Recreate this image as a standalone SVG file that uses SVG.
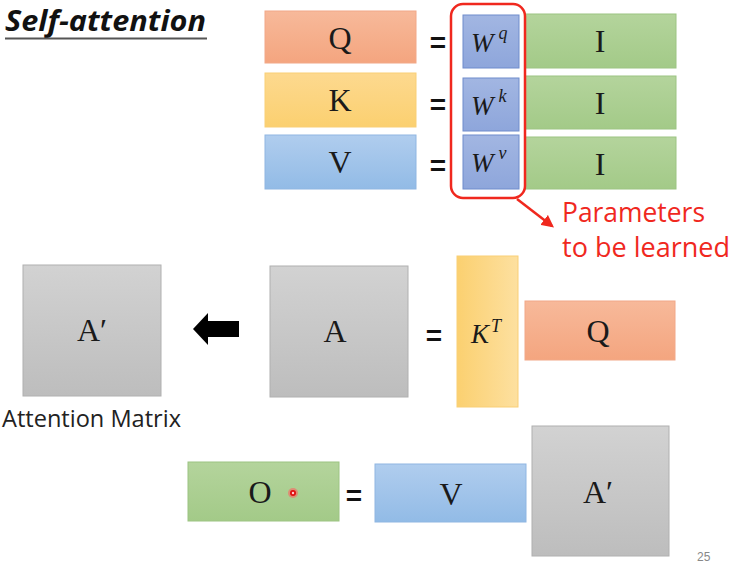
<svg xmlns="http://www.w3.org/2000/svg" width="732" height="563" viewBox="0 0 732 563">
<defs>
<linearGradient id="gOr" x1="0" y1="0" x2="0" y2="1"><stop offset="0" stop-color="#f7b99a"/><stop offset="1" stop-color="#f4a57f"/></linearGradient>
<linearGradient id="gYe" x1="0" y1="0" x2="0" y2="1"><stop offset="0" stop-color="#fdd98f"/><stop offset="1" stop-color="#fbd070"/></linearGradient>
<linearGradient id="gYeH" x1="0" y1="0" x2="1" y2="0"><stop offset="0" stop-color="#fbd070"/><stop offset="1" stop-color="#fde0a0"/></linearGradient>
<linearGradient id="gBl" x1="0" y1="0" x2="0" y2="1"><stop offset="0" stop-color="#b0cdee"/><stop offset="1" stop-color="#92bbe6"/></linearGradient>
<linearGradient id="gGr" x1="0" y1="0" x2="0" y2="1"><stop offset="0" stop-color="#b4d49c"/><stop offset="1" stop-color="#a3ca88"/></linearGradient>
<linearGradient id="gW" x1="0" y1="0" x2="0" y2="1"><stop offset="0" stop-color="#a2b6e2"/><stop offset="1" stop-color="#8ea6db"/></linearGradient>
<linearGradient id="gGy" x1="0" y1="0" x2="0" y2="1"><stop offset="0" stop-color="#d2d2d2"/><stop offset="1" stop-color="#bdbdbd"/></linearGradient>
<marker id="redHead" viewBox="0 0 10 10" refX="8" refY="5" markerWidth="5" markerHeight="5" orient="auto"><path d="M0,0 L10,5 L0,10 z" fill="#f0281e"/></marker>
</defs>
<style>
.or{fill:url(#gOr);stroke:#f2a888;stroke-width:1}
.ye{fill:url(#gYe);stroke:#f9cf77;stroke-width:1}
.bl{fill:url(#gBl);stroke:#8fb6e2;stroke-width:1}
.gr{fill:url(#gGr);stroke:#9cc482;stroke-width:1}
.w{fill:url(#gW);stroke:#6f8ccc;stroke-width:1}
.gy{fill:url(#gGy);stroke:#b0b0b0;stroke-width:1}
.lab{font-family:"Liberation Serif","DejaVu Serif",serif;font-size:32px;fill:#1a1a1a;text-anchor:middle}
.math{font-family:"Liberation Serif","DejaVu Serif",serif;font-style:italic;fill:#1a1a1a}
.eq{font-family:"Liberation Sans",Arial,sans-serif;font-weight:bold;font-size:28px;fill:#111;text-anchor:middle}
.red{font-family:"Open Sans","Liberation Sans",sans-serif;font-size:26.5px;fill:#f0281e}
</style>
<rect width="732" height="563" fill="#ffffff"/>

<g id="title">
<text x="5" y="31" font-family="'Open Sans','Liberation Sans',sans-serif" font-weight="bold" font-style="italic" font-size="29" fill="#111" textLength="201" lengthAdjust="spacingAndGlyphs">Self-attention</text>
<line x1="5" y1="38.5" x2="207" y2="38.5" stroke="#555" stroke-width="2"/>
</g>

<g id="Q"><rect class="or" x="265" y="11" width="151" height="52"/><text class="lab" x="340" y="49">Q</text></g>
<g id="eq1"><text class="eq" x="438" y="52">=</text></g>
<g id="Wq"><rect class="w" x="463" y="15" width="56" height="53"/><text class="math" x="471" y="52" font-size="27">W<tspan font-size="18" dx="5" dy="-13">q</tspan></text></g>
<g id="I1"><rect class="gr" x="525" y="14" width="151" height="54"/><text class="lab" x="600" y="52">I</text></g>

<g id="K"><rect class="ye" x="265" y="73" width="151" height="54"/><text class="lab" x="340" y="111">K</text></g>
<g id="eq2"><text class="eq" x="438" y="114">=</text></g>
<g id="Wk"><rect class="w" x="463" y="78" width="56" height="53"/><text class="math" x="471" y="115" font-size="27">W<tspan font-size="18" dx="5" dy="-13">k</tspan></text></g>
<g id="I2"><rect class="gr" x="525" y="76" width="151" height="53"/><text class="lab" x="600" y="114">I</text></g>

<g id="V"><rect class="bl" x="265" y="135" width="151" height="54"/><text class="lab" x="340" y="173">V</text></g>
<g id="eq3"><text class="eq" x="438" y="175">=</text></g>
<g id="Wv"><rect class="w" x="463" y="135" width="56" height="54"/><text class="math" x="471" y="172" font-size="27">W<tspan font-size="18" dx="5" dy="-13">v</tspan></text></g>
<g id="I3"><rect class="gr" x="525" y="137" width="151" height="52"/><text class="lab" x="600" y="175">I</text></g>

<g id="params">
<rect x="451" y="4" width="74" height="194" rx="12" fill="none" stroke="#f0281e" stroke-width="2.5"/>
<text class="red" x="562" y="222" textLength="143" lengthAdjust="spacingAndGlyphs">Parameters</text>
<text class="red" x="562" y="257" textLength="168" lengthAdjust="spacingAndGlyphs">to be learned</text>
</g>

<g id="Aprime1"><rect class="gy" x="23" y="265" width="138" height="131"/><text class="lab" x="92" y="341">A′</text>
<text x="2" y="427" font-family="'Open Sans','Liberation Sans',sans-serif" font-size="23" fill="#222" textLength="179" lengthAdjust="spacingAndGlyphs">Attention Matrix</text></g>

<g id="A"><rect class="gy" x="270" y="266" width="138" height="131"/><text class="lab" x="335" y="342">A</text></g>
<g id="eq4"><text class="eq" x="434" y="345">=</text></g>
<g id="KT"><rect x="457" y="256" width="61" height="151" fill="url(#gYeH)" stroke="#f9cf77" stroke-width="1"/><text class="math" x="471" y="343" font-size="27">K<tspan font-size="18" dx="2" dy="-11">T</tspan></text></g>
<g id="Q2"><rect class="or" x="525" y="301" width="150" height="59"/><text class="lab" x="598" y="342">Q</text></g>

<g id="O"><rect class="gr" x="188" y="462" width="151" height="59"/><text class="lab" x="260" y="503">O</text></g>
<g id="eq5"><text class="eq" x="354" y="505">=</text></g>
<g id="V2"><rect class="bl" x="375" y="464" width="151" height="58"/><text class="lab" x="451" y="505">V</text></g>
<g id="Aprime2"><rect class="gy" x="532" y="426" width="137" height="130"/><text class="lab" x="598" y="503">A′</text></g>

<g id="pointer"><circle cx="293" cy="493" r="5" fill="#ff6060" opacity="0.6"/><circle cx="293" cy="493" r="3" fill="#e01010"/><circle cx="293" cy="493" r="1.2" fill="#ffd0d0"/></g>

<text x="697" y="561" font-family="'Liberation Sans',sans-serif" font-size="12" fill="#888">25</text>

<g id="connectors">
<line x1="517" y1="199" x2="552" y2="226" stroke="#f0281e" stroke-width="2.5" marker-end="url(#redHead)"/>
<path d="M193,329 L208,313 L208,321 L239,321 L239,337 L208,337 L208,345 Z" fill="#000"/>
</g>
</svg>
